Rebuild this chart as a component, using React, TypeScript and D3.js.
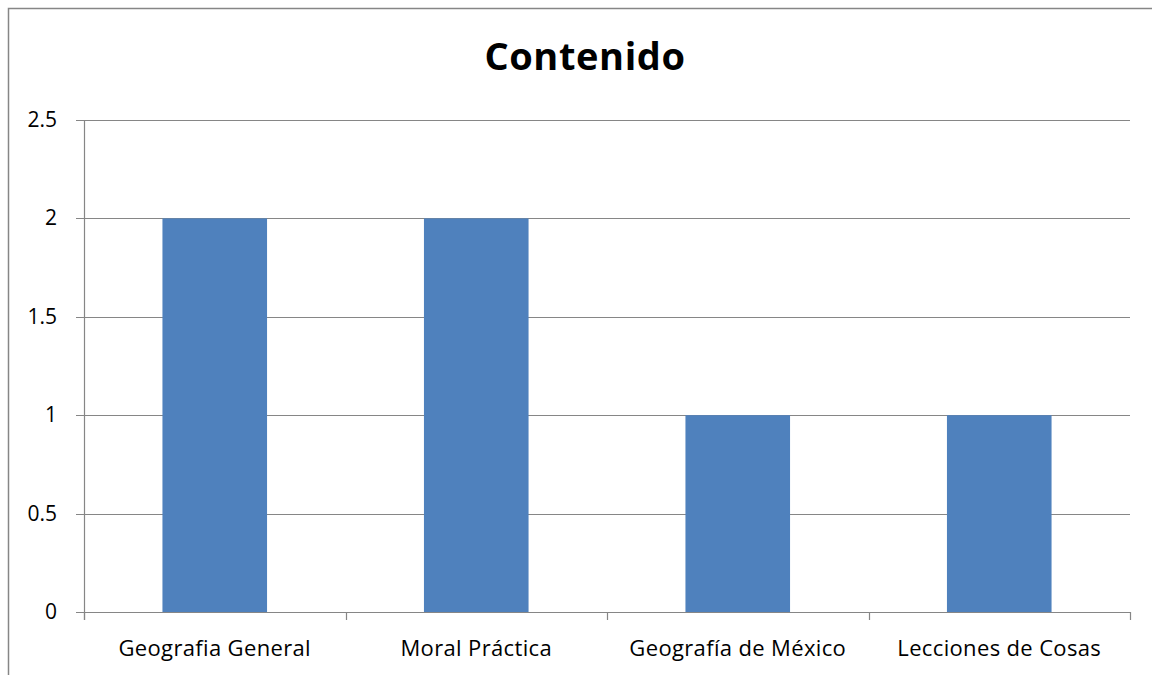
import React from "react";
import * as d3 from "d3";

const categories = ["Geografia General", "Moral Práctica", "Geografía de México", "Lecciones de Cosas"];
const values = [2, 2, 1, 1];
const yTicks = [0, 0.5, 1, 1.5, 2, 2.5];
const title = "Contenido";

export default function App() {
  const W = 1152, H = 675;
  const left = 84, right = 1130, top = 120, bottom = 612;
  const x = d3.scaleBand<string>().domain(categories).range([left, right]).padding(0);
  const y = d3.scaleLinear().domain([0, 2.5]).range([bottom, top]);
  const bw = x.bandwidth() * 0.4;
  const font = "'Open Sans', sans-serif";
  const grid = "#868686";
  const boundaries = categories.map((c) => x(c) as number).concat([right]);
  return (
    <div style={{ position: "absolute", left: 0, top: 0, width: W, height: H, overflow: "hidden", background: "#fff" }}>
      <svg width={W} height={H} style={{ display: "block" }}>
        <rect x={8.5} y={8.5} width={1200} height={800} fill="#fff" stroke={grid} strokeWidth={1.5} />
        <text x={585} y={70} textAnchor="middle" fontFamily={font} fontWeight="bold" fontSize={38} letterSpacing={0.6} fill="#000">{title}</text>
        {yTicks.map((t) => (
          <g key={t}>
            <line x1={76} x2={right} y1={Math.round(y(t)) + 0.5} y2={Math.round(y(t)) + 0.5} stroke={grid} strokeWidth={1.2} />
            <text x={57} y={y(t) + 7} textAnchor="end" fontFamily={font} fontSize={21} fill="#000">{t}</text>
          </g>
        ))}
        <line x1={left + 0.5} x2={left + 0.5} y1={top} y2={bottom + 8} stroke={grid} strokeWidth={1.2} />
        {boundaries.map((b, i) => (
          <line key={i} x1={Math.round(b) + 0.5} x2={Math.round(b) + 0.5} y1={bottom} y2={bottom + 8} stroke={grid} strokeWidth={1.2} />
        ))}
        {categories.map((c, i) => (
          <rect key={c} x={(x(c) as number) + (x.bandwidth() - bw) / 2} y={y(values[i])} width={bw} height={bottom - y(values[i])} fill="#4F81BD" />
        ))}
        {categories.map((c) => (
          <text key={c} x={(x(c) as number) + x.bandwidth() / 2} y={656} textAnchor="middle" fontFamily={font} fontSize={22} letterSpacing={0.35} fill="#000">{c}</text>
        ))}
      </svg>
    </div>
  );
}
